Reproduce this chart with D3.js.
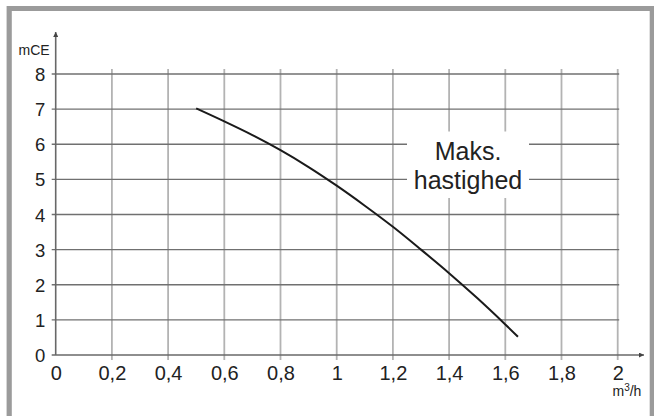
<!DOCTYPE html>
<html>
<head>
<meta charset="utf-8">
<script src="https://cdn.jsdelivr.net/npm/d3@7"></script>
<style>
  html, body { margin: 0; padding: 0; background: #fff; }
  svg { display: block; font-family: "Liberation Sans", Arial, sans-serif; }
</style>
</head>
<body>
<svg id="chart" width="654" height="416"></svg>
<script>
// data
let flow = [0.5, 0.6, 0.7, 0.8, 0.9, 1.0, 1.1, 1.2, 1.3, 1.4, 1.5, 1.6, 1.645];
let head = [7.02, 6.65, 6.26, 5.83, 5.35, 4.82, 4.25, 3.65, 3.0, 2.33, 1.62, 0.87, 0.52];
let xTicks = [0, 0.2, 0.4, 0.6, 0.8, 1, 1.2, 1.4, 1.6, 1.8, 2];
let yTicks = [0, 1, 2, 3, 4, 5, 6, 7, 8];
let noteLines = ["Maks.", "hastighed"];

// colors
let colorFrame = "#9b9b9b";
let colorHGrid = "#707070";
let colorVGrid = "#b3b3b3";
let colorAxis = "#686868";
let colorText = "#222222";

let svg = d3.select("#chart");

let x = d3.scaleLinear().domain([0, 2]).range([55.7, 617.7]);
let y = d3.scaleLinear().domain([0, 8]).range([355, 74]);

let fmt = d3.formatLocale({decimal: ",", thousands: ".", grouping: [3], currency: ["", ""]}).format("~g");

// outer frame (left, top, right)
svg.append("path")
    .attr("d", "M9.2,416 V8.5 H652.3 V416")
    .style("fill", "none")
    .style("stroke", colorFrame)
    .style("stroke-width", 5.2);

// vertical grid
svg.append("g").selectAll("line")
    .data(xTicks.slice(1))
    .enter().append("line")
    .attr("x1", d => x(d)).attr("x2", d => x(d))
    .attr("y1", y(0) + 5).attr("y2", 69)
    .style("stroke", colorVGrid)
    .style("stroke-width", 1.8);

// horizontal grid
svg.append("g").selectAll("line")
    .data(yTicks.slice(1))
    .enter().append("line")
    .attr("x1", x(0) - 4).attr("x2", x(2) + 1.5)
    .attr("y1", d => y(d)).attr("y2", d => y(d))
    .style("stroke", colorHGrid)
    .style("stroke-width", 1.4);

// axes lines with arrows
svg.append("defs").append("marker")
    .attr("id", "arrow")
    .attr("viewBox", "0 0 10 10")
    .attr("refX", 10).attr("refY", 5)
    .attr("markerWidth", 7).attr("markerHeight", 5)
    .attr("markerUnits", "userSpaceOnUse")
    .attr("orient", "auto")
    .append("path")
    .attr("d", "M0,0 L10,5 L0,10 Z")
    .style("fill", "#444");

svg.append("line")
    .attr("x1", x(0)).attr("x2", x(0))
    .attr("y1", y(0)).attr("y2", 32)
    .style("stroke", colorAxis).style("stroke-width", 1.6)
    .attr("marker-end", "url(#arrow)");

svg.append("line")
    .attr("x1", x(0) - 4).attr("x2", 644)
    .attr("y1", y(0)).attr("y2", y(0))
    .style("stroke", colorAxis).style("stroke-width", 1.6)
    .attr("marker-end", "url(#arrow)");

// tick labels via d3 axes
let xAxis = svg.append("g")
    .attr("transform", "translate(0," + y(0) + ")")
    .call(d3.axisBottom(x).tickValues(xTicks).tickFormat(fmt).tickSize(0).tickPadding(0));
xAxis.select(".domain").remove();
xAxis.selectAll("text")
    .attr("y", 25).attr("dy", null)
    .style("font-size", "20px")
    .style("fill", colorText)
    .style("font-family", "Liberation Sans, Arial, sans-serif");

let yAxis = svg.append("g")
    .attr("transform", "translate(" + x(0) + ",0)")
    .call(d3.axisLeft(y).tickValues(yTicks).tickFormat(fmt).tickSize(0).tickPadding(0));
yAxis.select(".domain").remove();
yAxis.selectAll("text")
    .attr("x", -10.5).attr("dy", "6.6")
    .style("font-size", "18.5px")
    .style("fill", colorText)
    .style("font-family", "Liberation Sans, Arial, sans-serif");

// unit labels
svg.append("text")
    .attr("x", 18.5).attr("y", 55)
    .style("font-size", "14px")
    .style("fill", colorText)
    .text("mCE");

let unitX = svg.append("text")
    .attr("x", 612.5).attr("y", 395.5)
    .style("font-size", "14px")
    .style("fill", colorText);
unitX.append("tspan").text("m");
unitX.append("tspan").attr("dy", -5).style("font-size", "10px").text("3");
unitX.append("tspan").attr("dy", 5).text("/h");

// curve
let pts = flow.map((f, i) => [f, head[i]]);
let line = d3.line()
    .x(d => x(d[0]))
    .y(d => y(d[1]))
    .curve(d3.curveCatmullRom);
svg.append("path")
    .datum(pts)
    .attr("d", line)
    .style("fill", "none")
    .style("stroke", "#1a1a1a")
    .style("stroke-width", 2);

// annotation with white box
svg.append("rect")
    .attr("x", 407).attr("y", 131.5)
    .attr("width", 122).attr("height", 66.5)
    .style("fill", "#fff");
svg.append("g").selectAll("text")
    .data(noteLines)
    .enter().append("text")
    .attr("x", 468)
    .attr("y", (d, i) => 160 + i * 29)
    .attr("text-anchor", "middle")
    .style("font-size", "25px")
    .style("fill", colorText)
    .text(d => d);
</script>
</body>
</html>
